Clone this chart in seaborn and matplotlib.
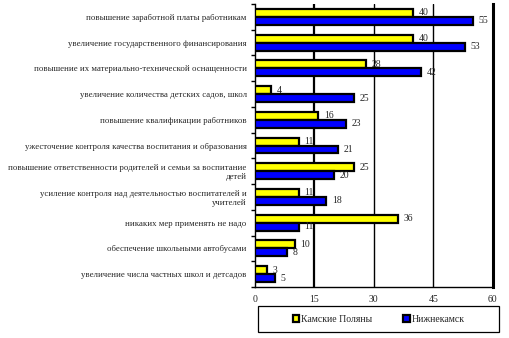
import matplotlib
matplotlib.use("Agg")
import matplotlib.pyplot as plt
import matplotlib.patches as mpatches
import seaborn as sns
import pandas as pd
import numpy as np

categories = [
    "повышение заработной платы работникам",
    "увеличение государственного финансирования",
    "повышение их материально-технической оснащенности",
    "увеличение количества детских садов, школ",
    "повышение квалификации работников",
    "ужесточение контроля качества воспитания и образования",
    "повышение ответственности родителей и семьи за воспитание\nдетей",
    "усиление контроля над деятельностью воспитателей и\nучителей",
    "никаких мер применять не надо",
    "обеспечение школьными автобусами",
    "увеличение числа частных школ и детсадов",
]
kamskie = [40, 40, 28, 4, 16, 11, 25, 11, 36, 10, 3]
nizhnekamsk = [55, 53, 42, 25, 23, 21, 20, 18, 11, 8, 5]
series_names = ["Камские Поляны", "Нижнекамск"]
x_ticks = [0, 15, 30, 45, 60]

df = pd.DataFrame({
    "cat": categories * 2,
    "val": kamskie + nizhnekamsk,
    "series": [series_names[0]] * len(categories) + [series_names[1]] * len(categories),
})

sns.set_style("white")
plt.rcParams["font.family"] = ["Liberation Serif", "DejaVu Serif"]

fig = plt.figure(figsize=(5.09, 3.38), dpi=100)
ax = fig.add_axes([0.501, 0.151, 0.968 - 0.501, 0.988 - 0.151])

sns.barplot(data=df, y="cat", x="val", hue="series", orient="h",
            palette=["#FFFF00", "#0000FF"], saturation=1, edgecolor="black", linewidth=1.6,
            width=0.62, ax=ax, legend=True, zorder=3)

for i, cont in enumerate(ax.containers):
    ax.bar_label(cont, labels=[str(v) for v in (kamskie if i == 0 else nizhnekamsk)],
                 padding=4, fontsize=7, zorder=4)

ax.set_xlim(0, 60)
ax.set_xticks(x_ticks)
ax.set_xticklabels([str(t) for t in x_ticks], fontsize=7)
ax.set_xlabel("")
ax.set_ylabel("")
ax.tick_params(axis="y", length=0, labelsize=6.3, pad=6)
ax.tick_params(axis="x", length=0, pad=6)
ax.set_yticks(range(len(categories)))
ax.set_yticks(np.arange(-0.5, len(categories), 1), minor=True)
ax.tick_params(axis="y", which="minor", length=3, width=1, direction="out", color="black", left=True)
ax.set_ylim(len(categories) - 0.5, -0.5)

for t in [15, 30, 45]:
    ax.axvline(t, color="black", linewidth=1.0 if t != 15 else 1.6, zorder=1)

ax.spines["top"].set_visible(False)
ax.spines["right"].set_linewidth(2.2)
ax.spines["left"].set_linewidth(1.0)
ax.spines["bottom"].set_linewidth(1.0)
for s in ["left", "bottom", "right"]:
    ax.spines[s].set_color("black")

leg = ax.get_legend()
handles, labels = ax.get_legend_handles_labels()
leg.remove()

W, H = 509, 338
frame = mpatches.Rectangle((258 / W, 1 - 332 / H), 241 / W, 26 / H,
                           transform=fig.transFigure, fill=False,
                           edgecolor="black", linewidth=0.9)
fig.patches.append(frame)
fig.legend(handles, labels, loc="center", bbox_to_anchor=(378.5 / W, 1 - 319 / H), ncol=2,
           fontsize=7, frameon=False,
           handlelength=0.7, handleheight=0.7, handletextpad=0.15, columnspacing=3.2,
           borderpad=0.2)

fig.savefig("out.png", dpi=100)
